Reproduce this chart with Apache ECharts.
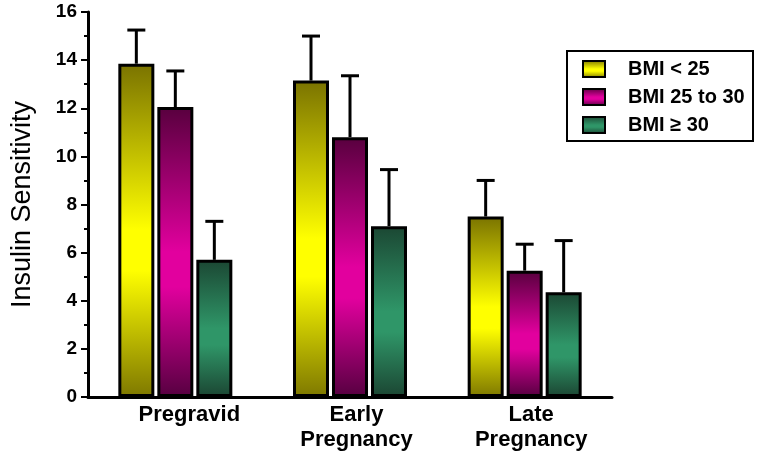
<!DOCTYPE html>
<html>
<head>
<meta charset="utf-8">
<script src="https://cdn.jsdelivr.net/npm/echarts@6/dist/echarts.min.js"></script>
<style>
html,body{margin:0;padding:0;background:#fff;}
#chart{width:762px;height:463px;}
</style>
</head>
<body>
<div id="chart"></div>
<script>
// ---- data ----
var categories = ['Pregravid', 'Early\nPregnancy', 'Late\nPregnancy'];
var seriesNames = ['BMI < 25', 'BMI 25 to 30', 'BMI \u2265 30'];
var bmiUnder25 = [13.85, 13.15, 7.5];
var bmi25to30 = [12.05, 10.8, 5.25];
var bmiOver30 = [5.7, 7.1, 4.35];
var errUnder25 = [1.4, 1.85, 1.5];
var err25to30 = [1.5, 2.55, 1.1];
var errOver30 = [1.6, 2.35, 2.15];
var yTicks = [0, 2, 4, 6, 8, 10, 12, 14, 16];

var FONT = '"Liberation Sans", Arial, sans-serif';

function grad(dark, bright, dark2) {
  return new echarts.graphic.LinearGradient(0, 0, 0, 1, [
    {offset: 0, color: dark},
    {offset: 0.5, color: bright},
    {offset: 0.62, color: bright},
    {offset: 1, color: dark2}
  ]);
}
var colors = [
  grad('#7a7300', '#ffff00', '#7e7800'),
  grad('#58003e', '#e2009e', '#560040'),
  grad('#1b4733', '#2f9668', '#1b4532')
];
var values = [bmiUnder25, bmi25to30, bmiOver30];
var errors = [errUnder25, err25to30, errOver30];

var BAR_W = 36, BAR_GAP_PX = 3;
var offsets = [-(BAR_W + BAR_GAP_PX), 0, BAR_W + BAR_GAP_PX];

var series = [];
values.forEach(function (vals, i) {
  series.push({
    name: seriesNames[i],
    type: 'bar',
    data: vals,
    barWidth: BAR_W,
    barGap: (BAR_GAP_PX / BAR_W * 100) + '%',
    itemStyle: {color: colors[i], borderColor: '#000', borderWidth: 3},
    z: 2
  });
});
values.forEach(function (vals, i) {
  var errData = vals.map(function (v, k) { return [k, v, v + errors[i][k]]; });
  series.push({
    type: 'custom',
    name: 'err' + i,
    data: errData,
    z: 1,
    silent: true,
    renderItem: function (params, api) {
      var base = api.coord([api.value(0), api.value(1)]);
      var top = api.coord([api.value(0), api.value(2)]);
      var x = base[0] + offsets[i];
      return {
        type: 'group',
        children: [
          {type: 'line', shape: {x1: x, y1: base[1], x2: x, y2: top[1]}, style: {stroke: '#000', lineWidth: 3}},
          {type: 'line', shape: {x1: x - 9, y1: top[1], x2: x + 9, y2: top[1]}, style: {stroke: '#000', lineWidth: 3}}
        ]
      };
    }
  });
});

var chart = echarts.init(document.getElementById('chart'));
chart.setOption({
  animation: false,
  backgroundColor: '#fff',
  grid: {left: 88, right: 150, top: 12, bottom: 66, containLabel: false, outerBoundsMode: 'none'},
  legend: {
    data: seriesNames,
    orient: 'vertical',
    left: 577,
    top: 53,
    icon: 'rect',
    itemWidth: 22,
    itemHeight: 16,
    itemGap: 6,
    itemStyle: {borderColor: '#000', borderWidth: 2},
    textStyle: {fontFamily: FONT, fontWeight: 'bold', fontSize: 20, lineHeight: 22, color: '#000', padding: [0, 0, 0, 18]}
  },
  graphic: [{
    type: 'rect',
    shape: {x: 567, y: 51, width: 186, height: 90},
    style: {fill: 'none', stroke: '#000', lineWidth: 2},
    z: 0
  }],
  xAxis: {
    type: 'category',
    data: categories.map(function (c, k) {
      return {value: c, textStyle: {padding: [0, 0, 0, k === 0 ? 28 : 13]}};
    }),
    axisLine: {lineStyle: {color: '#000', width: 3}},
    axisTick: {show: false},
    axisLabel: {fontFamily: FONT, fontWeight: 'bold', fontSize: 22, color: '#000', margin: 5, lineHeight: 25}
  },
  yAxis: {
    type: 'value',
    min: yTicks[0],
    max: yTicks[yTicks.length - 1],
    interval: 2,
    name: 'Insulin Sensitivity',
    nameLocation: 'middle',
    nameGap: 52,
    nameTextStyle: {fontFamily: FONT, fontSize: 27, color: '#000'},
    axisLine: {show: true, lineStyle: {color: '#000', width: 3}},
    axisTick: {show: true, length: 7, lineStyle: {color: '#000', width: 2}},
    minorTick: {show: true, splitNumber: 2, length: 4, lineStyle: {color: '#000', width: 2}},
    splitLine: {show: false},
    axisLabel: {fontFamily: FONT, fontWeight: 'bold', fontSize: 19, color: '#000', margin: 11}
  },
  series: series
});
</script>
</body>
</html>
